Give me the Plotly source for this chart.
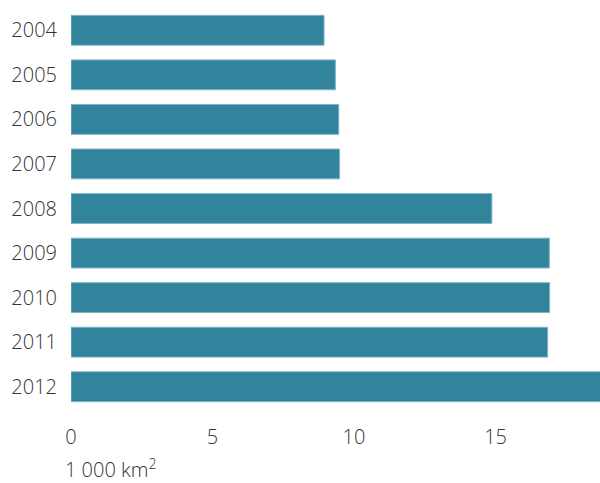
import plotly.graph_objects as go

years = ["2004", "2005", "2006", "2007", "2008", "2009", "2010", "2011", "2012"]
values = [8.94, 9.34, 9.46, 9.49, 14.87, 16.9, 16.91, 16.84, 19.5]
x_ticks = [0, 5, 10, 15]
unit_label = "1 000 km<sup>2</sup>"

fig = go.Figure(go.Bar(
    y=years, x=values, orientation="h",
    marker=dict(color="#31849B", line=dict(color="#7fb5c4", width=1)),
    hoverinfo="skip",
))

font = dict(family="Open Sans, Segoe UI, sans-serif", size=20, color="#333333", weight=300)

fig.update_layout(
    width=600, height=483,
    margin=dict(l=71, r=0, t=8, b=74),
    paper_bgcolor="white", plot_bgcolor="white",
    bargap=0.33,
    showlegend=False,
    xaxis=dict(range=[0, 18.69], tickvals=x_ticks, showgrid=False, zeroline=False,
               showline=False, ticks="", tickfont=font, ticklabelstandoff=14),
    yaxis=dict(autorange="reversed", showgrid=False, zeroline=False, showline=False,
               ticks="", tickfont=font, ticklabelstandoff=13),
    annotations=[dict(text=unit_label, x=(63 - 71) / 529, y=(409 - 468) / 401,
                      xref="paper", yref="paper", showarrow=False,
                      font=dict(font, color="#333333"),
                      xanchor="left", yanchor="middle")],
)

post = """
document.body.style.margin='0';
document.body.style.padding='0';
document.body.style.overflow='hidden';
var gd = document.getElementById('{plot_id}');
Plotly.relayout(gd, {width: 600, height: 483});
"""
fig.write_html("out.html", config={"responsive": False, "displayModeBar": False},
               post_script=post)
